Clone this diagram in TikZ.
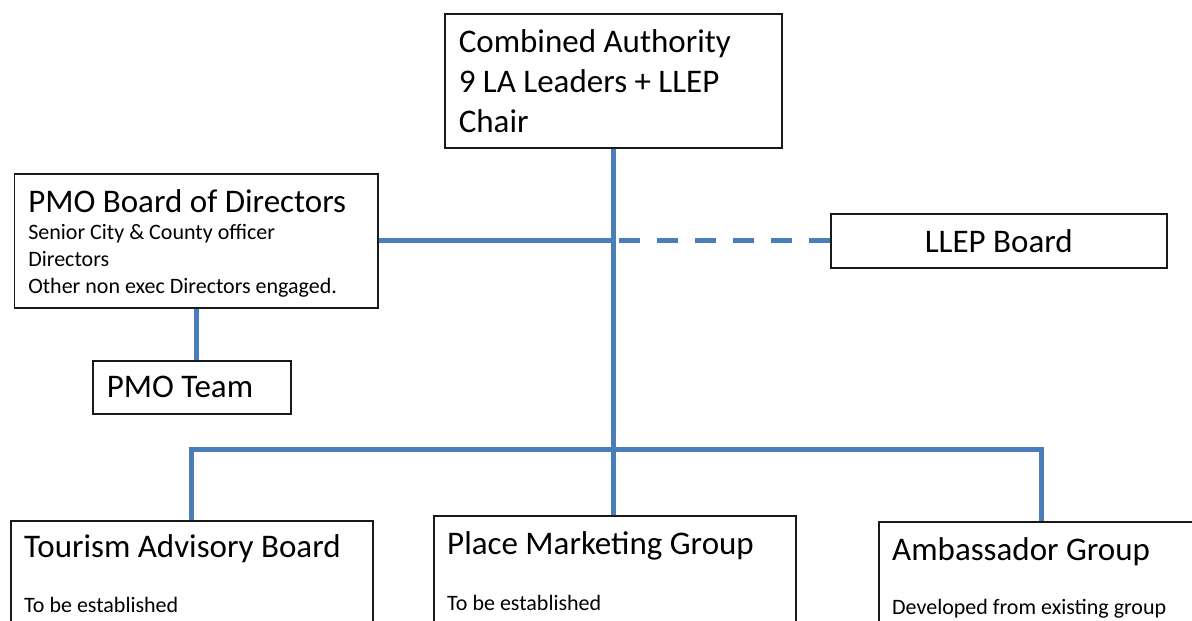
\documentclass[tikz,border=0pt]{standalone}
\usepackage{fontspec}
\setmainfont{Carlito}
\usetikzlibrary{calc,positioning}

\definecolor{linkblue}{RGB}{74,126,187}
\newcommand{\headsize}{\fontsize{33}{40}\selectfont}
\newcommand{\notesize}{\fontsize{22}{27}\selectfont}

\tikzset{
    orgbox/.style={draw=black!90, line width=1.6pt, fill=white, rectangle,
        anchor=north west, inner xsep=14pt, inner ysep=0pt, align=flush left},
    headtext/.style={anchor=base west, inner sep=0pt, font=\headsize},
    notetext/.style={anchor=base west, inner sep=0pt, font=\notesize},
    link/.style={draw=linkblue, line width=5pt},
    weaklink/.style={link, dash pattern=on 21.5pt off 16.5pt},
}

\begin{document}
\begin{tikzpicture}[x=1pt, y=-1pt]
    \useasboundingbox (0,0) rectangle (1192,621);
    \clip (0,0) rectangle (1192,621);
    \fill[white] (0,0) rectangle (1192,621);

    % top of the tree
    \node[orgbox, text width=309pt, minimum height=134pt, font=\headsize] (ca) at (444,13)
        {Combined Authority\\9 LA Leaders + LLEP\\Chair};
    \node[orgbox, text width=335.5pt, minimum height=134pt, font=\notesize] (pmo) at (13.5,173)
        {{\headsize\rule{0pt}{29pt}PMO Board of Directors}\\Senior City \& County officer\\Directors\\Other non exec Directors engaged.};
    \node[orgbox, text width=170pt, minimum height=53pt, font=\headsize] (team) at (92,360) {PMO Team};
    \node[orgbox, text width=308pt, minimum height=54pt, font=\headsize, align=flush center] (llep) at (830,213) {LLEP Board};

    % groups along the bottom (run off the page)
    \node[orgbox, minimum width=362pt, minimum height=150pt] (tab) at (10,520) {};
    \node[orgbox, minimum width=362pt, minimum height=150pt] (pmg) at (433,515) {};
    \node[orgbox, minimum width=326pt, minimum height=150pt] (amb) at (878,521) {};
    \node[headtext] (tabhead) at ([shift={(14pt,-37pt)}]tab.north west) {Tourism Advisory Board};
    \node[notetext] (tabnote) at ([shift={(14pt,-92pt)}]tab.north west) {To be established};
    \node[headtext] (pmghead) at ([shift={(14pt,-39pt)}]pmg.north west) {Place Marketing Group};
    \node[notetext] (pmgnote) at ([shift={(14pt,-95pt)}]pmg.north west) {To be established};
    \node[headtext] (ambhead) at ([shift={(14pt,-39pt)}]amb.north west) {Ambassador Group};
    \node[notetext] (ambnote) at ([shift={(14pt,-93pt)}]amb.north west) {Developed from existing group};

    % connectors
    \coordinate (hub) at (ca.south |- pmo.east);
    \coordinate (bus) at ([yshift=-301pt]ca.south);
    \draw[link] (ca.south) -- (ca.south |- pmg.north);
    \draw[link] (pmo.east) -- (hub);
    \draw[weaklink] (llep.west) -- (hub);
    \draw[link] (pmo.south) -- (pmo.south |- team.north);
    \draw[link, line join=miter] (tab.north) |- (bus) -| (amb.north);
\end{tikzpicture}
\end{document}
